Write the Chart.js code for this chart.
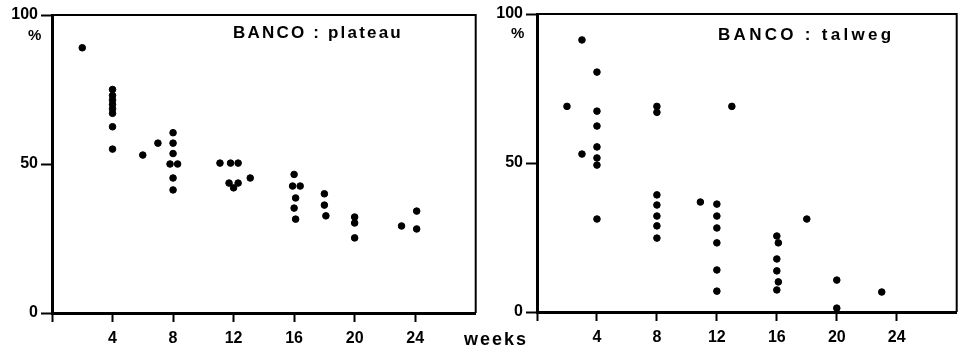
<!DOCTYPE html>
<html>
<head>
<meta charset="utf-8">
<script src="https://cdn.jsdelivr.net/npm/chart.js@4.4.1/dist/chart.umd.min.js"></script>
<style>
    body { margin: 0; background: #fff; }
    #wrap { position: relative; width: 961px; height: 349px; overflow: hidden; font-family: "Liberation Sans", Arial, sans-serif; font-weight: bold; color: #000; }
    canvas { position: absolute; top: 0; }
    .lbl { position: absolute; white-space: nowrap; line-height: 1; }
</style>
</head>
<body>
<div id="wrap">
    <canvas id="plateauChart" width="480" height="349" style="left:0"></canvas>
    <canvas id="talwegChart" width="481" height="349" style="left:480px"></canvas>
    <div class="lbl" style="left:233px; top:24px; font-size:17px; letter-spacing:2.2px;">BANCO : plateau</div>
    <div class="lbl" style="left:718px; top:26px; font-size:17px; letter-spacing:3.3px;">BANCO : talweg</div>
    <div class="lbl" style="left:28px; top:27px; font-size:15px;">%</div>
    <div class="lbl" style="left:511px; top:25px; font-size:15px;">%</div>
    <div class="lbl" style="left:464px; top:330px; font-size:18px; letter-spacing:2px;">weeks</div>
</div>
<script>
// axis ticks
const weekTicks = [0, 4, 8, 12, 16, 20, 24];
const pctTicks = [0, 50, 100];

// BANCO : plateau
const plateauWeeks = [2, 4, 4, 4, 4, 4, 4, 4, 4, 6, 7, 8, 8, 8, 7.8, 8.3, 8, 8,
    11.1, 11.8, 12.3, 11.7, 12, 12.3, 13.1, 16, 15.9, 16.4, 16.1, 16, 16.1,
    18, 18, 18.1, 20, 20, 20, 23.1, 24.1, 24.1];
const plateauPct = [89, 75, 73, 71.5, 70, 68.5, 67, 62.5, 55, 53, 57, 60.5, 57, 53.5, 50, 50, 45.3, 41.3,
    50.3, 50.3, 50.3, 43.6, 42, 43.6, 45.3, 46.5, 42.6, 42.6, 38.6, 35.2, 31.5,
    40, 36.2, 32.6, 32.2, 30.2, 25.2, 29.2, 34.2, 28.2];

// BANCO : talweg
const talwegWeeks = [2, 3, 3, 4, 4, 4, 4, 4, 4, 4, 8, 8, 8, 8, 8, 8, 8,
    10.9, 12, 12, 12, 12, 12, 12, 13, 16, 16.1, 16, 16, 16.1, 16, 18, 20, 20, 23];
const talwegPct = [69, 91.3, 53, 80.5, 67.4, 62.4, 55.4, 51.7, 49.3, 31.2, 69, 67, 39.3, 35.9, 32.2, 28.9, 24.8,
    36.9, 36.2, 32.2, 28.2, 23.2, 14.1, 7, 69, 25.5, 23.2, 17.8, 13.8, 10.1, 7.4, 31.2, 10.7, 1.3, 6.7];

const tickFont = { family: 'Liberation Sans', weight: 'bold', size: 16 };

// frame: top and right sides of the box
const framePlugin = {
    id: 'frame',
    afterDraw(chart) {
        const { ctx, chartArea: a } = chart;
        ctx.save();
        ctx.strokeStyle = '#000';
        ctx.lineWidth = 2;
        ctx.beginPath();
        ctx.moveTo(a.left, a.top);
        ctx.lineTo(a.right, a.top);
        ctx.lineTo(a.right, a.bottom);
        ctx.stroke();
        ctx.restore();
    }
};

function makeChart(id, weeks, pct, yWidth, xHeight, pad) {
    const points = weeks.map((w, i) => ({ x: w, y: pct[i] }));
    return new Chart(document.getElementById(id), {
        type: 'scatter',
        data: {
            datasets: [{
                data: points,
                backgroundColor: '#000',
                borderColor: '#000',
                pointRadius: 3.3,
                pointHoverRadius: 3.3
            }]
        },
        options: {
            responsive: false,
            animation: false,
            devicePixelRatio: 1,
            layout: { padding: pad },
            plugins: {
                legend: { display: false },
                tooltip: { enabled: false }
            },
            scales: {
                x: {
                    type: 'linear',
                    min: 0,
                    max: 28,
                    afterBuildTicks: (scale) => {
                        scale.ticks = weekTicks.map(v => ({ value: v }));
                    },
                    afterFit: (scale) => { scale.height = xHeight; },
                    ticks: {
                        color: '#000',
                        font: tickFont,
                        padding: 7,
                        maxRotation: 0,
                        autoSkip: false,
                        callback: (v) => (v === 0 ? '' : v)
                    },
                    grid: {
                        drawOnChartArea: false,
                        tickLength: 9,
                        tickWidth: 2,
                        tickColor: '#000'
                    },
                    border: { display: true, color: '#000', width: 3 }
                },
                y: {
                    min: 0,
                    max: 100,
                    afterBuildTicks: (scale) => {
                        scale.ticks = pctTicks.map(v => ({ value: v }));
                    },
                    afterFit: (scale) => { scale.width = yWidth; },
                    ticks: {
                        color: '#000',
                        font: tickFont,
                        padding: 3
                    },
                    grid: {
                        drawOnChartArea: false,
                        tickLength: 11,
                        tickWidth: 2,
                        tickColor: '#000'
                    },
                    border: { display: true, color: '#000', width: 3 }
                }
            }
        },
        plugins: [framePlugin]
    });
}

makeChart('plateauChart', plateauWeeks, plateauPct, 52, 36, { top: 15, right: 3, left: 0, bottom: 0 });
makeChart('talwegChart', talwegWeeks, talwegPct, 57, 37, { top: 14, right: 2, left: 0, bottom: 0 });
</script>
</body>
</html>
